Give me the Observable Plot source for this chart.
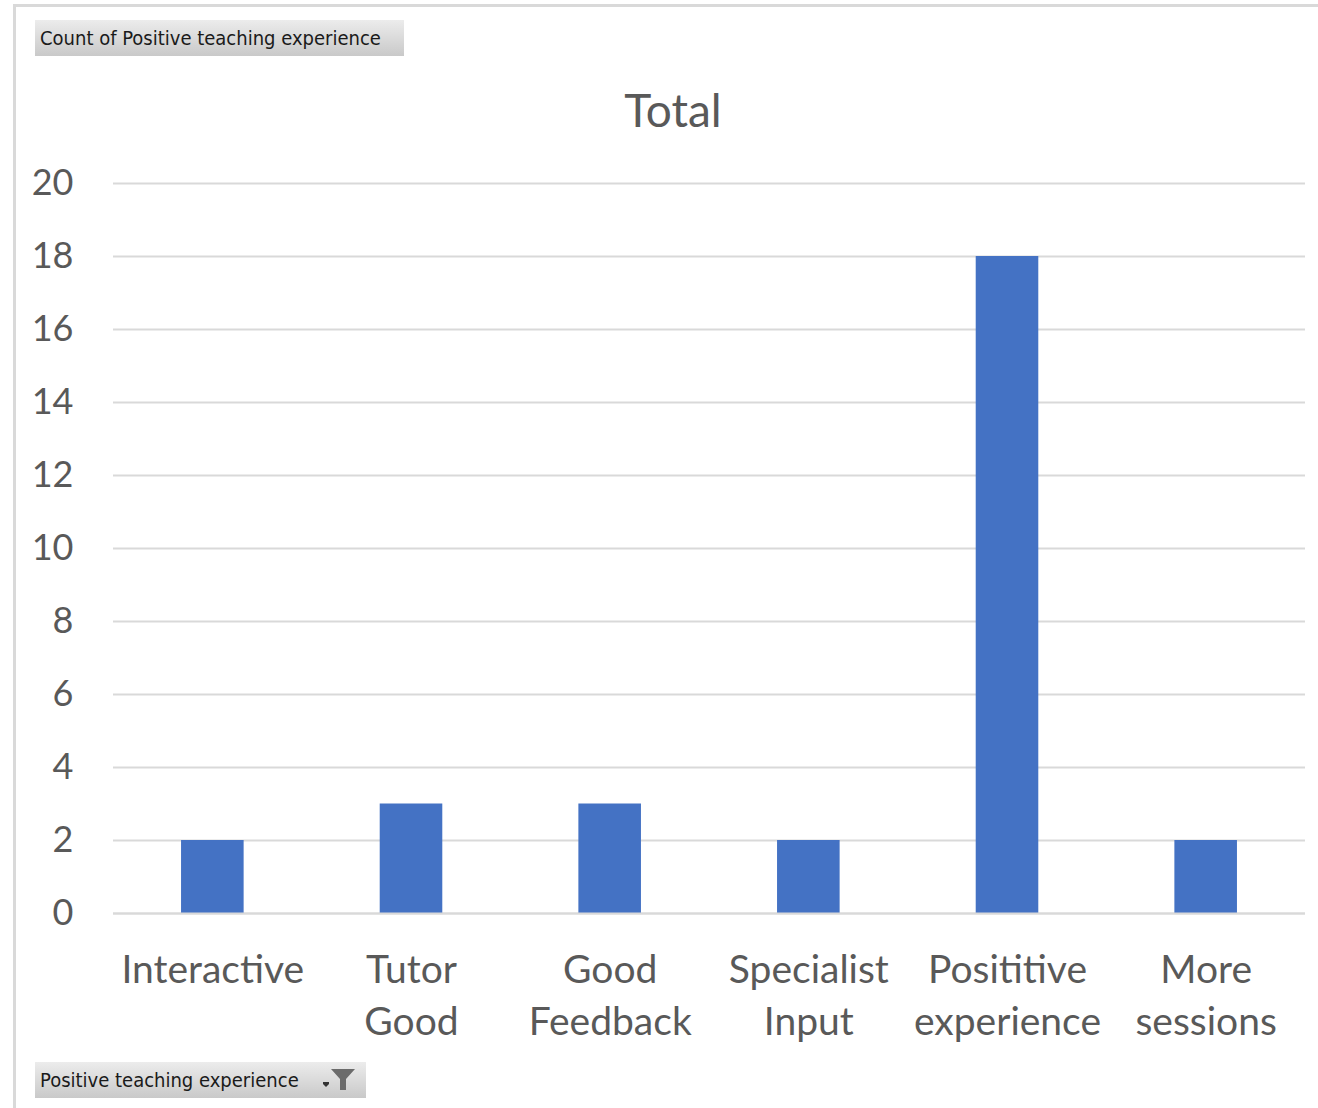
<!DOCTYPE html>
<html>
<head>
<meta charset="utf-8">
<script src="https://cdn.jsdelivr.net/npm/d3@7"></script>
<script src="https://cdn.jsdelivr.net/npm/@observablehq/plot@0.6"></script>
<style>
  html, body { margin: 0; padding: 0; background: #fff; }
  #wrap { position: relative; width: 1318px; height: 1108px; overflow: hidden; font-family: Lato, "Open Sans", sans-serif; }
  #frame { position: absolute; left: 13px; top: 4px; width: 1320px; height: 1120px; border-left: 3px solid #d9d9d9; border-top: 3px solid #d9d9d9; box-sizing: border-box; }
  .btn { position: absolute; height: 36px; background: linear-gradient(#ececec, #c9c9c9); color: #1a1a1a; font-family: "DejaVu Sans Condensed", "DejaVu Sans", sans-serif; font-size: 20px; line-height: 36px; padding-left: 5px; box-sizing: border-box; white-space: nowrap; }
  #title { position: absolute; left: 0; width: 1346px; top: 82px; text-align: center; font-size: 46px; color: #595959; }
  #chart { position: absolute; left: 0; top: 0; }
</style>
</head>
<body>
<div id="wrap">
  <div id="frame"></div>
  <div id="chart"></div>
  <div class="btn" style="left:35px; top:20px; width:369px;">Count of Positive teaching experience</div>
  <div id="title">Total</div>
  <div class="btn" style="left:35px; top:1062px; width:331px;">Positive teaching experience
    <svg style="position:absolute; left:286px; top:6px;" width="40" height="24" viewBox="0 0 40 24">
      <rect x="2" y="14" width="6" height="2" fill="#333"/>
      <polygon points="5,19 8,16 2,16" fill="#333"/>
      <polygon points="10,1 34,1 25,11 25,22 19,22 19,11" fill="#6b6b6b"/>
    </svg>
  </div>
</div>
<script>
const categories = ["Interactive", "Tutor\nGood", "Good\nFeedback", "Specialist\nInput", "Posititive\nexperience", "More\nsessions"];
const counts = [2, 3, 3, 2, 18, 2];
const yTicks = [0, 2, 4, 6, 8, 10, 12, 14, 16, 18, 20];

const data = categories.map((c, i) => ({category: c, count: counts[i]}));

const chart = Plot.plot({
  width: 1318,
  height: 1108,
  marginLeft: 113,
  marginRight: 13,
  marginTop: 183,
  marginBottom: 195,
  style: {fontFamily: "Lato, 'Open Sans', sans-serif", background: "transparent", overflow: "visible"},
  x: {domain: categories, paddingInner: 0.685, paddingOuter: 0.3425, round: false, label: null},
  y: {domain: [0, 20], ticks: yTicks, label: null},
  marks: [
    Plot.gridY(yTicks, {stroke: "#d9d9d9", strokeOpacity: 1, strokeWidth: 2}),
    Plot.barY(data, {x: "category", y: "count", fill: "#4472C4"}),
    Plot.ruleY([0], {stroke: "#d9d9d9", strokeWidth: 2}),
    Plot.axisY(yTicks, {tickSize: 0, tickPadding: 40, fontSize: 36, fill: "#595959", label: null}),
    Plot.axisX({tickSize: 0, tickPadding: 32, fontSize: 39, fill: "#595959", lineHeight: 1.34, label: null})
  ]
});
document.getElementById("chart").appendChild(chart);
</script>
</body>
</html>
